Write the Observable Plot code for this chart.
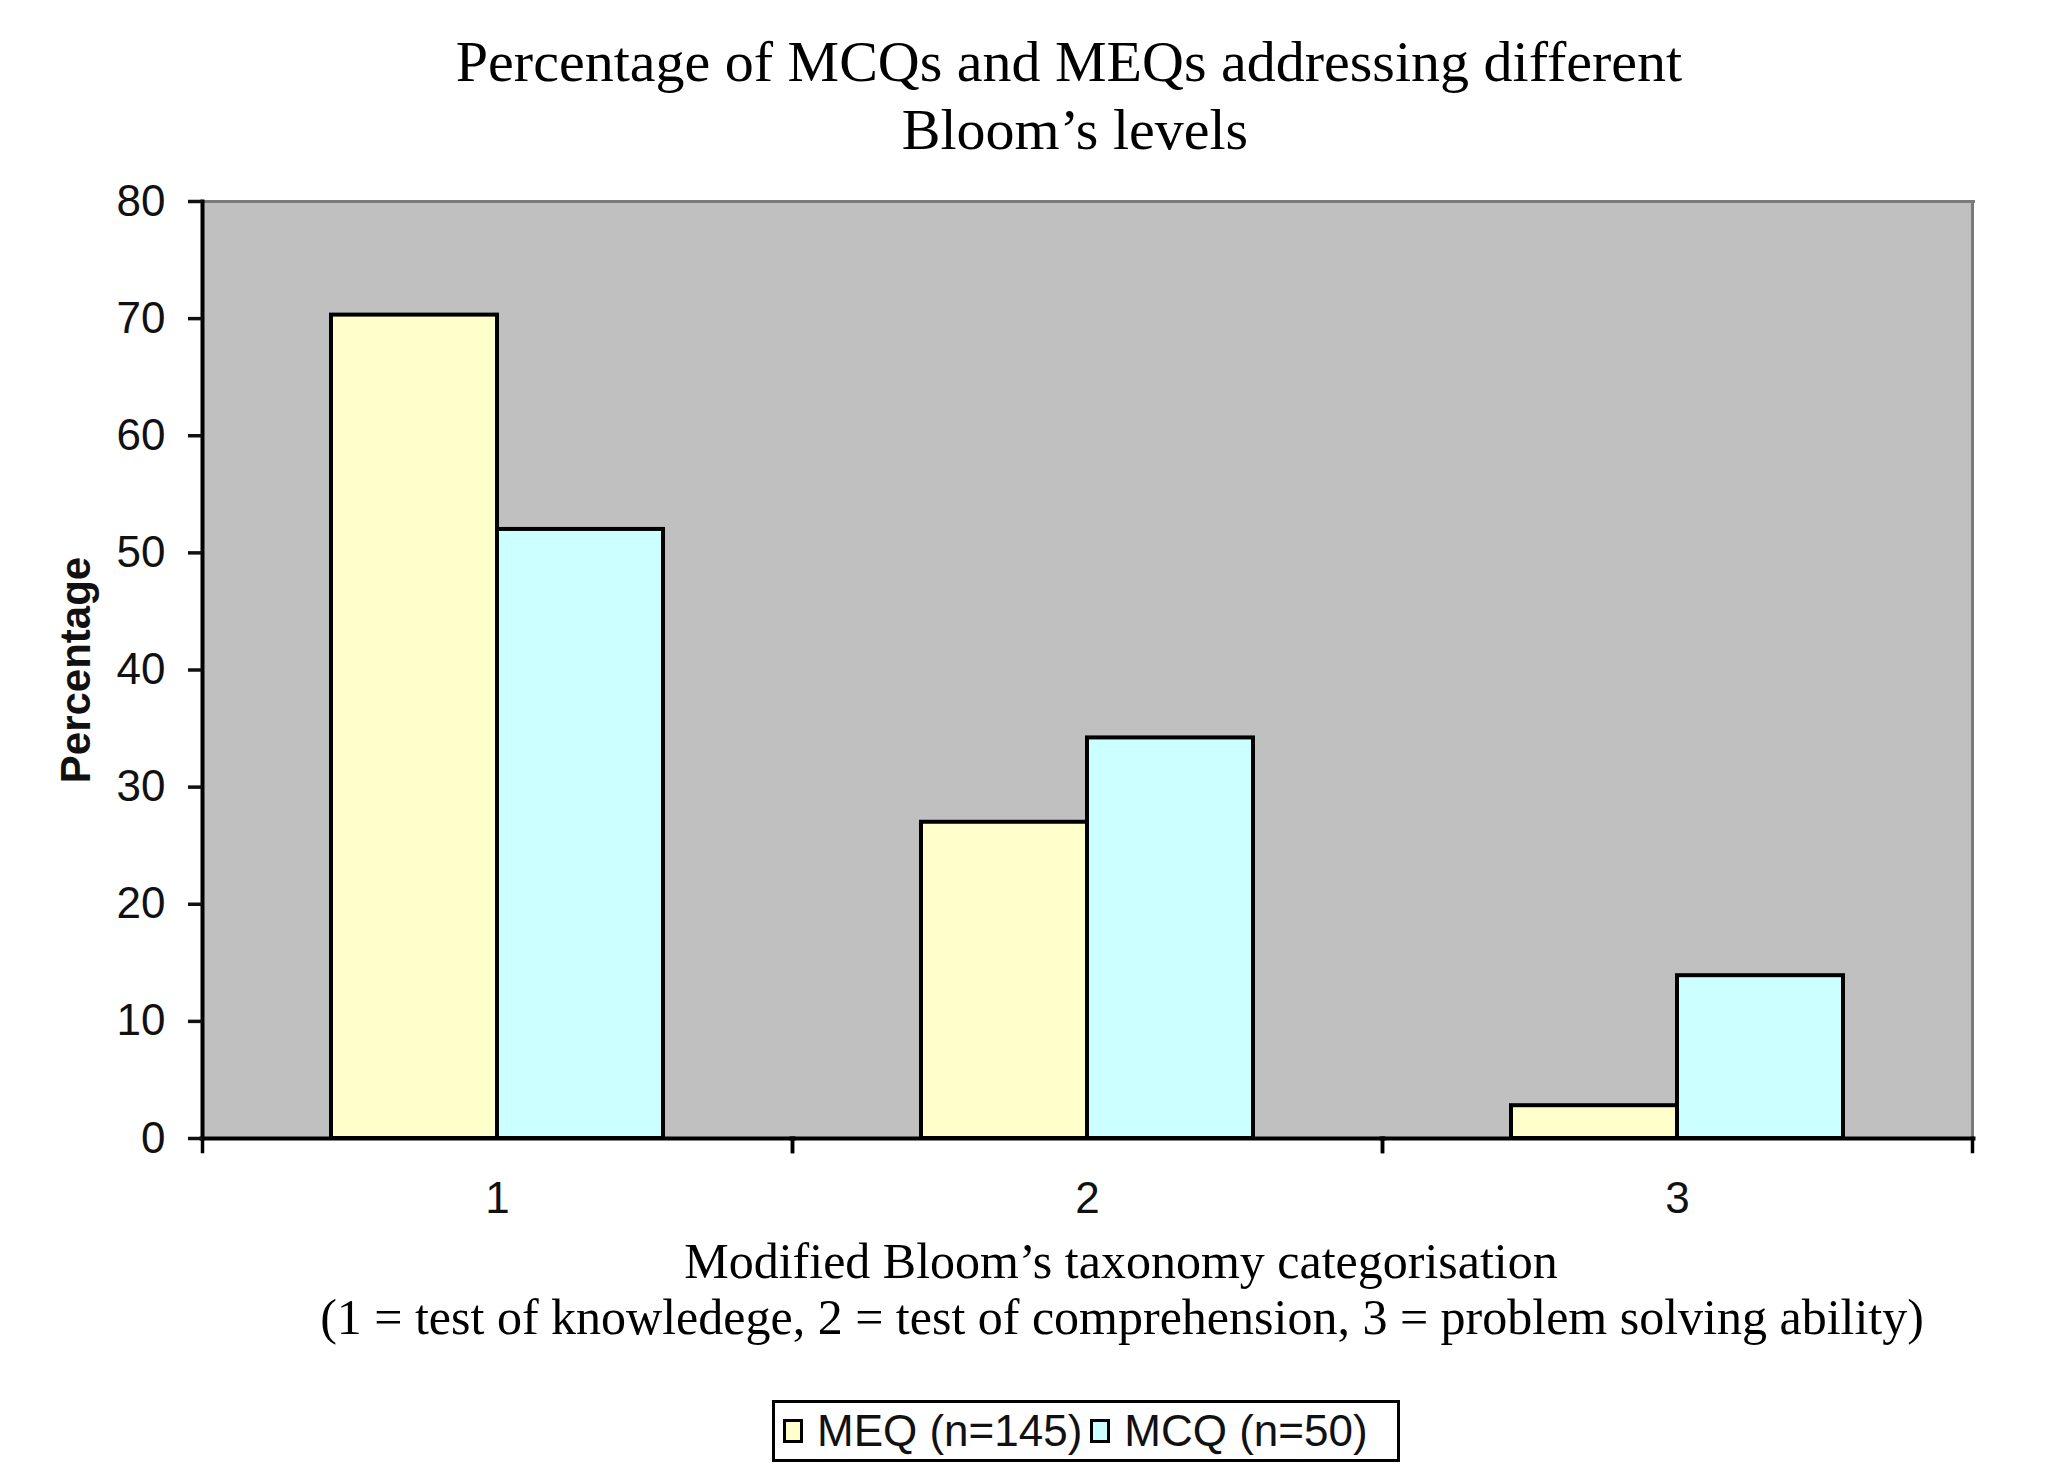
<!DOCTYPE html>
<html>
<head>
<meta charset="utf-8">
<script src="https://cdn.jsdelivr.net/npm/d3@7"></script>
<script src="https://cdn.jsdelivr.net/npm/@observablehq/plot@0.6"></script>
<style>
  html, body { margin: 0; padding: 0; background: #fff; }
  #root { position: relative; width: 2052px; height: 1482px; overflow: hidden; }
  .serif { position: absolute; font-family: "Liberation Serif", "Times New Roman", serif; color: #000; line-height: 1; white-space: nowrap; transform: translateX(-50%); }
  #chart { position: absolute; left: 0; top: 165px; }
  #ylabel { position: absolute; left: 76px; top: 670px; transform: translate(-50%, -50%) rotate(-90deg); font-family: "Liberation Sans", Arial, sans-serif; font-weight: bold; font-size: 42px; line-height: 1; color: #111; white-space: nowrap; }
  #legend { position: absolute; left: 772px; top: 1400px; width: 628px; height: 62px; box-sizing: border-box; border: 3.5px solid #000; display: flex; align-items: center; padding: 0 8px; font-family: "Liberation Sans", Arial, sans-serif; font-size: 44px; color: #111; white-space: nowrap; }
  .sw { width: 20px; height: 24px; box-sizing: border-box; border: 3px solid #000; flex: none; }
</style>
</head>
<body>
<div id="root">
  <div class="serif" id="t1" style="left:1069px; top:33px; font-size:58px;"></div>
  <div class="serif" id="t2" style="left:1075px; top:101px; font-size:58px;"></div>
  <div id="chart"></div>
  <div id="ylabel"></div>
  <div class="serif" id="x1" style="left:1121px; top:1236px; font-size:50px;"></div>
  <div class="serif" id="x2" style="left:1122px; top:1292px; font-size:50px;"></div>
  <div id="legend"></div>
</div>
<script>
// ---- data ----
const titleLines = ["Percentage of MCQs and MEQs addressing different", "Bloom\u2019s levels"];
const xLabelLines = ["Modified Bloom\u2019s taxonomy categorisation", "(1 = test of knowledege, 2 = test of comprehension, 3 = problem solving ability)"];
const yLabel = "Percentage";
const categories = ["1", "2", "3"];
const seriesKeys = ["MEQ", "MCQ"];
const seriesLabels = ["MEQ (n=145)", "MCQ (n=50)"];
const meqValues = [70.3, 27.0, 2.8];
const mcqValues = [52.0, 34.2, 13.9];
const seriesColors = ["#FFFFCC", "#CCFFFF"];
const yTicks = [0, 10, 20, 30, 40, 50, 60, 70, 80];

// ---- build table ----
const rows = categories.flatMap((c, i) => [
  {cat: c, series: seriesKeys[0], value: meqValues[i]},
  {cat: c, series: seriesKeys[1], value: mcqValues[i]}
]);

document.getElementById("t1").textContent = titleLines[0];
document.getElementById("t2").textContent = titleLines[1];
document.getElementById("x1").textContent = xLabelLines[0];
document.getElementById("x2").textContent = xLabelLines[1];
document.getElementById("ylabel").textContent = yLabel;

const H = 1075, MT = 36, MB = 102;
const plotH = H - MT - MB;

const chart = Plot.plot({
  width: 2052,
  height: H,
  marginLeft: 202,
  marginRight: 80,
  marginTop: MT,
  marginBottom: MB,
  style: {background: "none", fontFamily: "'Liberation Sans', Arial, sans-serif", color: "#111", overflow: "visible"},
  fx: {domain: categories, padding: 0},
  x: {domain: seriesKeys, paddingInner: 0, paddingOuter: 0.77, axis: null},
  y: {domain: [0, 80]},
  color: {domain: seriesKeys, range: seriesColors},
  marks: [
    Plot.frame({fill: "#C0C0C0", stroke: "none", insetLeft: -1, insetRight: -1}),
    Plot.frame({anchor: "top", stroke: "#7a7a7a", strokeWidth: 3, insetLeft: -1, insetRight: -1}),
    Plot.frame({anchor: "right", stroke: "#7a7a7a", strokeWidth: 3, facetAnchor: "right"}),
    Plot.barY(rows, {fx: "cat", x: "series", y: "value", fill: "series", stroke: "#000", strokeWidth: 4, inset: 0}),
    Plot.frame({anchor: "bottom", stroke: "#000", strokeWidth: 4, insetLeft: -1, insetRight: -1}),
    Plot.frame({anchor: "left", stroke: "#000", strokeWidth: 4, facetAnchor: "left"}),
    Plot.frame({anchor: "left", stroke: "#000", strokeWidth: 3.5, insetTop: plotH, insetBottom: -13}),
    Plot.frame({anchor: "right", stroke: "#000", strokeWidth: 3.5, insetTop: plotH, insetBottom: -13}),
    Plot.axisY({ticks: yTicks, tickSize: 14, tickPadding: 23, fontSize: 44, strokeWidth: 3.5, label: null}),
    Plot.axisFx({anchor: "bottom", tickSize: 0, tickPadding: 43, fontSize: 44, label: null})
  ]
});
document.getElementById("chart").appendChild(chart);

// ---- legend ----
const legend = document.getElementById("legend");
seriesLabels.forEach((lab, i) => {
  const sw = document.createElement("span");
  sw.className = "sw";
  sw.style.background = seriesColors[i];
  sw.style.marginLeft = i === 0 ? "0px" : "8px";
  sw.style.marginRight = "14px";
  const t = document.createElement("span");
  t.textContent = lab;
  legend.appendChild(sw);
  legend.appendChild(t);
});
</script>
</body>
</html>
